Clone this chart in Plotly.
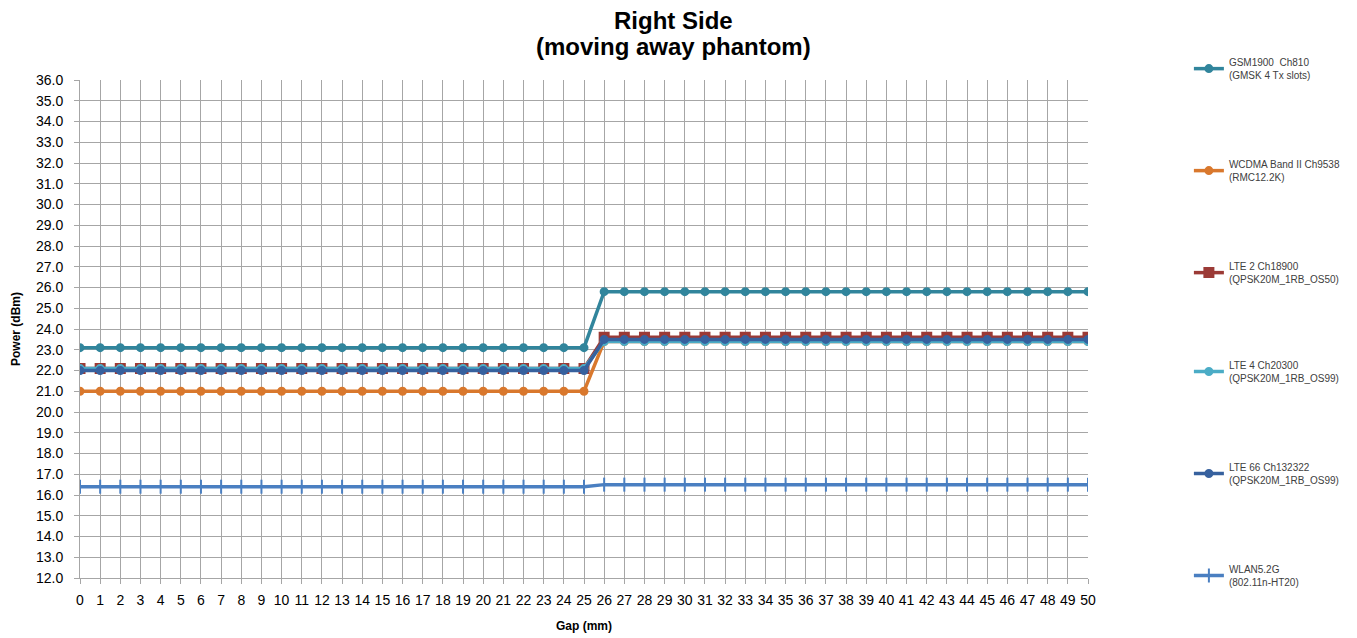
import plotly.graph_objects as go

gap = list(range(0, 51))

gsm = [23.1] * 26 + [25.8] * 25
wcdma = [21.0] * 26 + [23.4] * 25
lte2 = [22.1] * 26 + [23.6] * 25
lte4 = [22.1] * 26 + [23.4] * 25
lte66 = [22.0] * 26 + [23.5] * 25
wlan = [16.4] * 26 + [16.5] * 25

names = [
    "GSM1900  Ch810<br>(GMSK 4 Tx slots)",
    "WCDMA Band II Ch9538<br>(RMC12.2K)",
    "LTE 2 Ch18900<br>(QPSK20M_1RB_OS50)",
    "LTE 4 Ch20300<br>(QPSK20M_1RB_OS99)",
    "LTE 66 Ch132322<br>(QPSK20M_1RB_OS99)",
    "WLAN5.2G<br>(802.11n-HT20)",
]
title_lines = ["Right Side", "(moving away phantom)"]
series = [gsm, wcdma, lte2, lte4, lte66, wlan]
colors = ["#31859C", "#D9782D", "#9B3A36", "#4BACC6", "#37619E", "#4A7FC1"]
symbols = ["circle", "circle", "square", "circle", "circle", "line-ns"]
msizes = [7, 7, 9, 7, 7, 10]
legends = ["legend", "legend", "legend", "legend2", "legend2", "legend2"]

fig = go.Figure()
for i, (n, s, c, sym, ms, lg) in enumerate(zip(names, series, colors, symbols, msizes, legends)):
    fig.add_trace(go.Scatter(
        x=gap, y=s, name=n, mode="lines+markers",
        line=dict(color=c, width=3.5),
        marker=dict(symbol=sym, size=ms, color=c, line=dict(color=c, width=2)),
        legendgroup=str(i), legend=lg,
    ))

leg_common = dict(x=1.099, xanchor="left", yanchor="top", tracegroupgap=73, itemwidth=30,
                  font=dict(size=10, color="#404040"), bgcolor="rgba(0,0,0,0)")

PW, PH = 1009, 498
anns = []
for txt, ycen in zip(title_lines, [20, 46]):
    anns.append(dict(text="<b>" + txt + "</b>", xref="paper", yref="paper",
                     x=(674 - 80) / PW, y=1 + (80 - ycen) / PH, xanchor="center", yanchor="middle",
                     showarrow=False, font=dict(size=24, color="#000000")))

fig.update_layout(
    width=1357, height=638,
    paper_bgcolor="white", plot_bgcolor="white",
    margin=dict(l=80, r=268, t=80, b=60),
    font=dict(family="Liberation Sans, Arial, sans-serif", color="#404040"),
    showlegend=True,
    legend=dict(y=1.062, **leg_common),
    legend2=dict(y=(578 - 352) / PH, **leg_common),
    annotations=anns,
    xaxis=dict(range=[0, 50], tickmode="linear", dtick=1, showgrid=True, gridcolor="#A6A6A6",
               gridwidth=1, showline=True, linecolor="#A6A6A6", ticks="outside", ticklen=5,
               tickcolor="#A6A6A6", tickfont=dict(size=14, color="#000000"), zeroline=False,
               ticklabelstandoff=4, automargin=False,
               title=dict(text="<b>Gap (mm)</b>", font=dict(size=12, color="#000000"), standoff=14)),
    yaxis=dict(range=[12, 36], tickmode="linear", dtick=1, tickformat=".1f", showgrid=True,
               gridcolor="#A6A6A6", gridwidth=1, showline=True, linecolor="#A6A6A6",
               ticks="outside", ticklen=5, tickcolor="#A6A6A6", automargin=False,
               ticklabelstandoff=8,
               tickfont=dict(size=14, color="#000000"), zeroline=False,
               title=dict(text="<b>Power (dBm)</b>", font=dict(size=12, color="#000000"), standoff=12)),
)

fig.write_html("out.html", config={"displayModeBar": False},
               post_script="document.body.style.margin='0px';")
